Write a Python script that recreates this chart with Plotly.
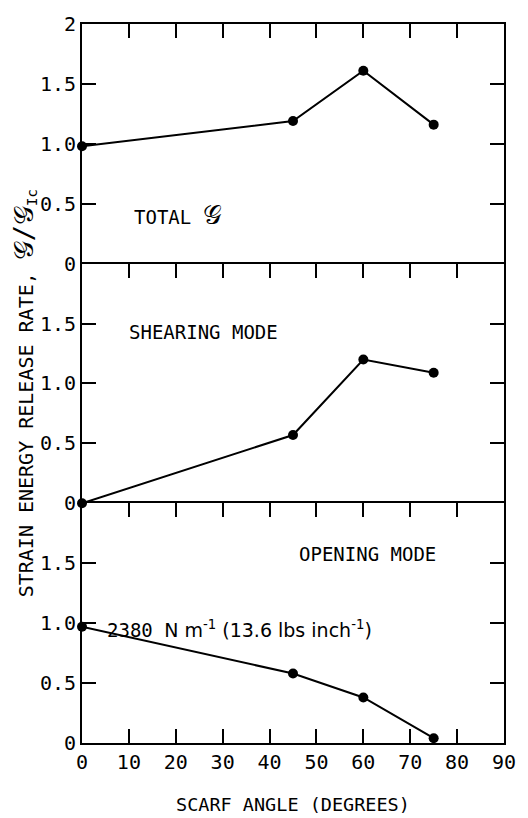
import plotly.graph_objects as go

# Data
angles = [0, 45, 60, 75]
total_g = [0.98, 1.19, 1.61, 1.16]
shearing = [0.0, 0.57, 1.20, 1.09]
opening = [0.97, 0.58, 0.38, 0.04]

x_ticks = [0, 10, 20, 30, 40, 50, 60, 70, 80, 90]
top_yticks = [0, 0.5, 1.0, 1.5, 2.0]
top_ylabels = ["0", "0.5", "1.0", "1.5", "2"]
low_yticks = [0, 0.5, 1.0, 1.5]
low_ylabels = ["0", "0.5", "1.0", "1.5"]

MONO = "DejaVu Sans Mono"
FS = 19
TFS = 20
TICKLEN = 14
W, H = 528, 818
ML, MR, MT, MB = 82, 18, 12, 75
XR = [0, 90]
YR = [0, 2]

fig = go.Figure()

panels = [(total_g, "x", "y"), (shearing, "x2", "y2"), (opening, "x3", "y3")]
for vals, xa, ya in panels:
    fig.add_trace(go.Scatter(
        x=angles, y=vals, xaxis=xa, yaxis=ya, mode="lines+markers",
        line=dict(color="black", width=2),
        marker=dict(color="black", size=10),
        cliponaxis=False, showlegend=False, hoverinfo="skip"))

common_x = dict(range=XR, tickvals=x_ticks, ticks="inside", ticklen=TICKLEN,
                tickwidth=2, tickcolor="black", showline=True, linecolor="black",
                linewidth=2, showgrid=False, zeroline=False)
common_y = dict(range=YR, ticks="inside", ticklen=TICKLEN, tickwidth=2,
                tickcolor="black", showline=True, linecolor="black", linewidth=2,
                showgrid=False, zeroline=False, mirror="ticks",
                tickfont=dict(family=MONO, size=TFS, color="black"))

fig.update_layout(
    width=W, height=H,
    margin=dict(l=ML, r=MR, t=MT, b=MB),
    paper_bgcolor="white", plot_bgcolor="white",
    xaxis=dict(**common_x, domain=[0, 1], anchor="y", side="top", mirror=False,
               showticklabels=False),
    yaxis=dict(**common_y, domain=[2/3, 1], anchor="x", tickvals=top_yticks,
               ticktext=top_ylabels),
    xaxis2=dict(**common_x, domain=[0, 1], anchor="y2", side="top", mirror=False,
                showticklabels=False),
    yaxis2=dict(**common_y, domain=[1/3, 2/3], anchor="x2", tickvals=low_yticks,
                ticktext=low_ylabels),
    xaxis3=dict(**common_x, domain=[0, 1], anchor="y3", side="bottom",
                mirror="ticks", showticklabels=True,
                tickfont=dict(family=MONO, size=TFS, color="black")),
    yaxis3=dict(**common_y, domain=[0, 1/3], anchor="x3", tickvals=low_yticks,
                ticktext=low_ylabels),
)

ann_font = dict(family=MONO, size=FS, color="black")
fig.add_annotation(text="TOTAL <span style='font-size:26px'>𝒢</span>", x=10.7, y=0.41,
                   xref="x", yref="y", xanchor="left", yanchor="middle",
                   showarrow=False, font=ann_font)
fig.add_annotation(text="SHEARING MODE", x=9.7, y=1.43, xref="x2", yref="y2",
                   xanchor="left", yanchor="middle", showarrow=False, font=ann_font)
fig.add_annotation(text="OPENING MODE", x=45.8, y=1.58, xref="x3", yref="y3",
                   xanchor="left", yanchor="middle", showarrow=False, font=ann_font)
fig.add_annotation(
    text="2380 <span style='font-family:DejaVu Sans'>N m<sup>-1</sup> (13.6 lbs inch<sup>-1</sup>)</span>",
    x=4.9, y=0.95, xref="x3", yref="y3", xanchor="left", yanchor="middle",
    showarrow=False, font=dict(family=MONO, size=19, color="black"))

fig.add_annotation(text="SCARF ANGLE (DEGREES)", x=0.5, y=-0.086,
                   xref="paper", yref="paper", xanchor="center", yanchor="middle",
                   showarrow=False, font=dict(family=MONO, size=18.5, color="black"))
fig.add_annotation(
    text="STRAIN ENERGY RELEASE RATE, <span style='font-size:27px'>𝒢/𝒢</span><sub>Ic</sub>",
    x=-0.138, y=0.486, xref="paper", yref="paper",
    xanchor="center", yanchor="middle", textangle=-90,
    showarrow=False, font=dict(family=MONO, size=20, color="black"))

fig.write_html("out.html")
